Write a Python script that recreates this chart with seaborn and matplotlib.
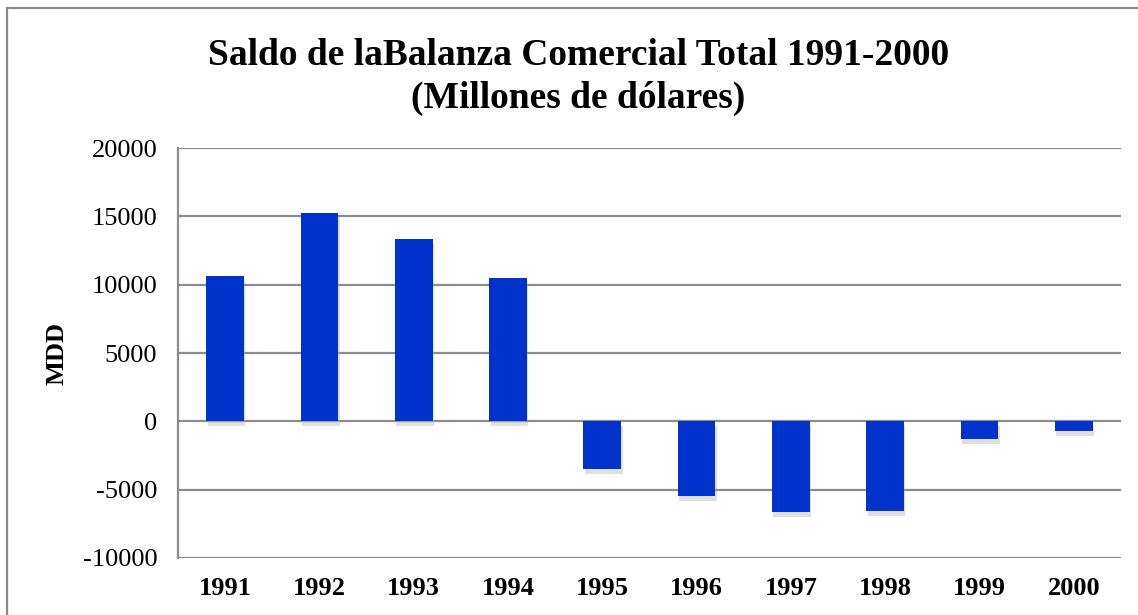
import pandas as pd
import matplotlib.pyplot as plt
import matplotlib.patheffects as pe
from matplotlib.patches import Rectangle
import seaborn as sns

# Saldo de la balanza comercial (millones de dolares)
years = ["1991", "1992", "1993", "1994", "1995", "1996", "1997", "1998", "1999", "2000"]
saldo = [10600, 15250, 13330, 10480, -3490, -5480, -6650, -6590, -1270, -700]
y_ticks = [-10000, -5000, 0, 5000, 10000, 15000, 20000]

df = pd.DataFrame({"Year": years, "Saldo": saldo})

sns.set_style("white")
plt.rcParams["font.family"] = ["Liberation Serif", "DejaVu Serif"]
plt.rcParams["text.color"] = "black"
plt.rcParams["axes.labelcolor"] = "black"
plt.rcParams["xtick.color"] = "black"
plt.rcParams["ytick.color"] = "black"

fig = plt.figure(figsize=(11.38, 6.15), dpi=100)
ax = fig.add_axes([0.1564, 0.0927, 0.8286, 0.6666])

sns.barplot(data=df, x="Year", y="Saldo", color="#0033cc", width=0.4,
            saturation=1, ax=ax)
for bar in ax.patches:
    bar.set_path_effects([pe.SimplePatchShadow(offset=(1, -3.5), shadow_rgbFace="#b0b0b0", alpha=0.4),
                          pe.Normal()])
    bar.set_edgecolor("none")

ax.set_ylim(-10000, 20000)
ax.set_xlim(-0.5, len(years) - 0.5)
ax.set_yticks(y_ticks)
ax.set_yticklabels([str(v) for v in y_ticks], fontsize=19)
ax.yaxis.grid(True, color="#8c8c8c", linewidth=1.6)
ax.set_axisbelow(True)
ax.tick_params(axis="y", length=7, width=1.4, color="#8c8c8c", labelcolor="black",
               direction="out", pad=8)
ax.tick_params(axis="x", length=0, pad=14, labelcolor="black")
for lbl in ax.get_xticklabels():
    lbl.set_fontsize(19)
    lbl.set_fontweight("bold")

for side in ["top", "right", "bottom"]:
    ax.spines[side].set_visible(False)
ax.spines["left"].set_color("#8c8c8c")
ax.spines["left"].set_linewidth(1.6)

ax.set_xlabel("")
ax.set_ylabel("MDD", fontsize=19, fontweight="bold", labelpad=10, color="black")

fig.text(0.508, 0.91, "Saldo de laBalanza Comercial Total 1991-2000",
         ha="center", va="center", fontsize=27, fontweight="bold", color="black")
fig.text(0.508, 0.84, "(Millones de dólares)",
         ha="center", va="center", fontsize=27, fontweight="bold", color="black")

# marco exterior del grafico
fig.patches.append(Rectangle((7 / 1138, -0.05), 1.2, 1 - 8 / 615 + 0.05,
                             transform=fig.transFigure, fill=False,
                             edgecolor="#8c8c8c", linewidth=1.6))

fig.savefig("out.png", dpi=100)
